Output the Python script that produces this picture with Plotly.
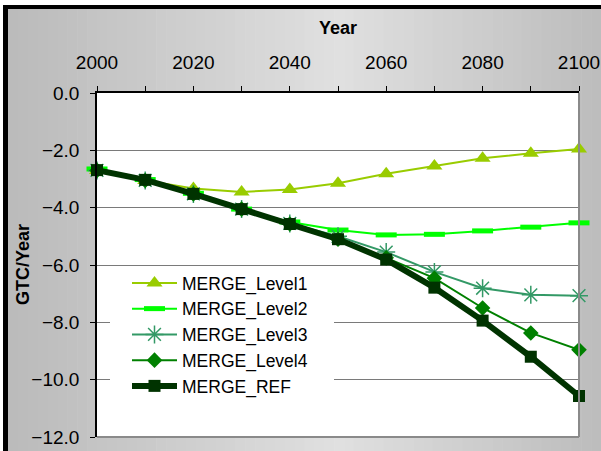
import plotly.graph_objects as go

years = [2000, 2010, 2020, 2030, 2040, 2050, 2060, 2070, 2080, 2090, 2100]
level1 = [-2.70, -3.05, -3.33, -3.45, -3.37, -3.15, -2.82, -2.55, -2.28, -2.10, -1.95]
level2 = [-2.65, -3.02, -3.50, -4.05, -4.50, -4.78, -4.95, -4.93, -4.81, -4.68, -4.53]
level3 = [-2.70, -3.05, -3.52, -4.05, -4.55, -5.00, -5.55, -6.24, -6.81, -7.04, -7.07]
level4 = [-2.70, -3.05, -3.52, -4.05, -4.57, -5.10, -5.75, -6.46, -7.50, -8.37, -8.96]
ref = [-2.69, -3.03, -3.52, -4.05, -4.57, -5.10, -5.81, -6.79, -7.94, -9.20, -10.57]

names = ["MERGE_Level1", "MERGE_Level2", "MERGE_Level3", "MERGE_Level4", "MERGE_REF"]

W_PX, H_PX = 601, 451
L, R, T, B = 97, 579, 93, 437
PW, PH = R - L, B - T


def fx(px):
    return (px - L) / PW


def fy(py):
    return (B - py) / PH


fig = go.Figure()

styles = [
    dict(color="#99CC00", width=2, symbol="triangle-up", size=14, mline=0),
    dict(color="#00FF00", width=2, symbol="line-ew", size=15, mline=5),
    dict(color="#339966", width=2, symbol="asterisk-open", size=15, mline=1.5),
    dict(color="#008000", width=2, symbol="diamond", size=12, mline=0),
    dict(color="#003300", width=6, symbol="square", size=12, mline=0),
]

for name, vals, st in zip(names, [level1, level2, level3, level4, ref], styles):
    marker = dict(symbol=st["symbol"], size=st["size"], color=st["color"])
    if st["mline"]:
        marker["line"] = dict(color=st["color"], width=st["mline"])
    else:
        marker["line"] = dict(width=0)
    fig.add_trace(go.Scatter(
        x=years, y=vals, name=name, mode="lines+markers",
        line=dict(color=st["color"], width=st["width"]),
        marker=marker, cliponaxis=False,
    ))

shapes = []
# gradient background strips
N = 60
x_start, x_end = 8, 601


def gray_at(px):
    mid = 340
    if px < mid:
        t = (px - x_start) / (mid - x_start)
        g = 186 + (224 - 186) * t
    else:
        t = (px - mid) / (x_end - mid)
        g = 224 + (188 - 224) * t
    return int(round(g))


step = (x_end - x_start) / N
for i in range(N):
    x0 = x_start + i * step
    x1 = x0 + step + 0.6
    g = gray_at(x0 + step / 2)
    shapes.append(dict(type="rect", xref="paper", yref="paper",
                       x0=fx(x0), x1=fx(x1), y0=fy(H_PX + 2), y1=fy(9),
                       fillcolor=f"rgb({g},{g},{g})", line=dict(width=0), layer="below"))
# plot area white
shapes.append(dict(type="rect", xref="paper", yref="paper", x0=0, x1=1, y0=0, y1=1,
                   fillcolor="white", line=dict(width=0), layer="below"))
# black frame top and left
shapes.append(dict(type="rect", xref="paper", yref="paper", x0=fx(3), x1=fx(602), y0=fy(9), y1=fy(5),
                   fillcolor="black", line=dict(width=0), layer="below"))
shapes.append(dict(type="rect", xref="paper", yref="paper", x0=fx(3), x1=fx(8), y0=fy(452), y1=fy(5),
                   fillcolor="black", line=dict(width=0), layer="below"))
# legend white box covering gridlines
shapes.append(dict(type="rect", xref="paper", yref="paper", x0=fx(110), x1=fx(334), y0=fy(392), y1=fy(267),
                   fillcolor="white", line=dict(width=0), layer="above"))
# gray right and bottom plot border
shapes.append(dict(type="line", xref="paper", yref="paper", x0=1, x1=1, y0=0, y1=1,
                   line=dict(color="#8a8a8a", width=2), layer="above"))
shapes.append(dict(type="line", xref="paper", yref="paper", x0=0, x1=1, y0=0, y1=0,
                   line=dict(color="#8a8a8a", width=2), layer="above"))

font_fam = "Liberation Sans, Arial, sans-serif"

fig.update_layout(
    width=W_PX, height=H_PX,
    margin=dict(l=L, r=W_PX - R, t=T, b=H_PX - B, pad=0, autoexpand=False),
    paper_bgcolor="white", plot_bgcolor="white",
    font=dict(family=font_fam, size=19, color="black"),
    shapes=shapes,
    showlegend=True,
    legend=dict(x=fx(127), y=fy(265), xanchor="left", yanchor="top",
                bgcolor="rgba(0,0,0,0)", borderwidth=0,
                font=dict(size=17.5, family=font_fam, color="black"),
                itemwidth=45, tracegroupgap=0),
    annotations=[dict(text="<b>GTC/Year</b>", xref="paper", yref="paper",
                      x=fx(23), y=0.5, xanchor="center", yanchor="middle",
                      textangle=-90, showarrow=False, font=dict(size=18))],
    xaxis=dict(
        range=[2000, 2100], side="top", dtick=20, tick0=2000, automargin=False,
        ticks="outside", ticklen=5, tickcolor="black", tickwidth=1,
        minor=dict(dtick=10, tick0=2000, ticks="outside", ticklen=5, tickcolor="black", showgrid=False),
        showgrid=False, zeroline=False,
        showline=True, linecolor="black", linewidth=1.5,
        ticklabelstandoff=10,
        title=dict(text="<b>Year</b>", font=dict(size=18), standoff=12),
    ),
    yaxis=dict(
        range=[-12, 0], dtick=2, tick0=0, tickformat=".1f", automargin=False,
        ticks="outside", ticklen=5, tickcolor="black",
        showgrid=True, gridcolor="#7a7a7a", gridwidth=1,
        zeroline=False, showline=True, linecolor="black", linewidth=1.5,
        ticklabelstandoff=7,
    ),
)

fig.write_html("out.html", config={"displayModeBar": False},
               post_script="document.body.style.margin='0';")
